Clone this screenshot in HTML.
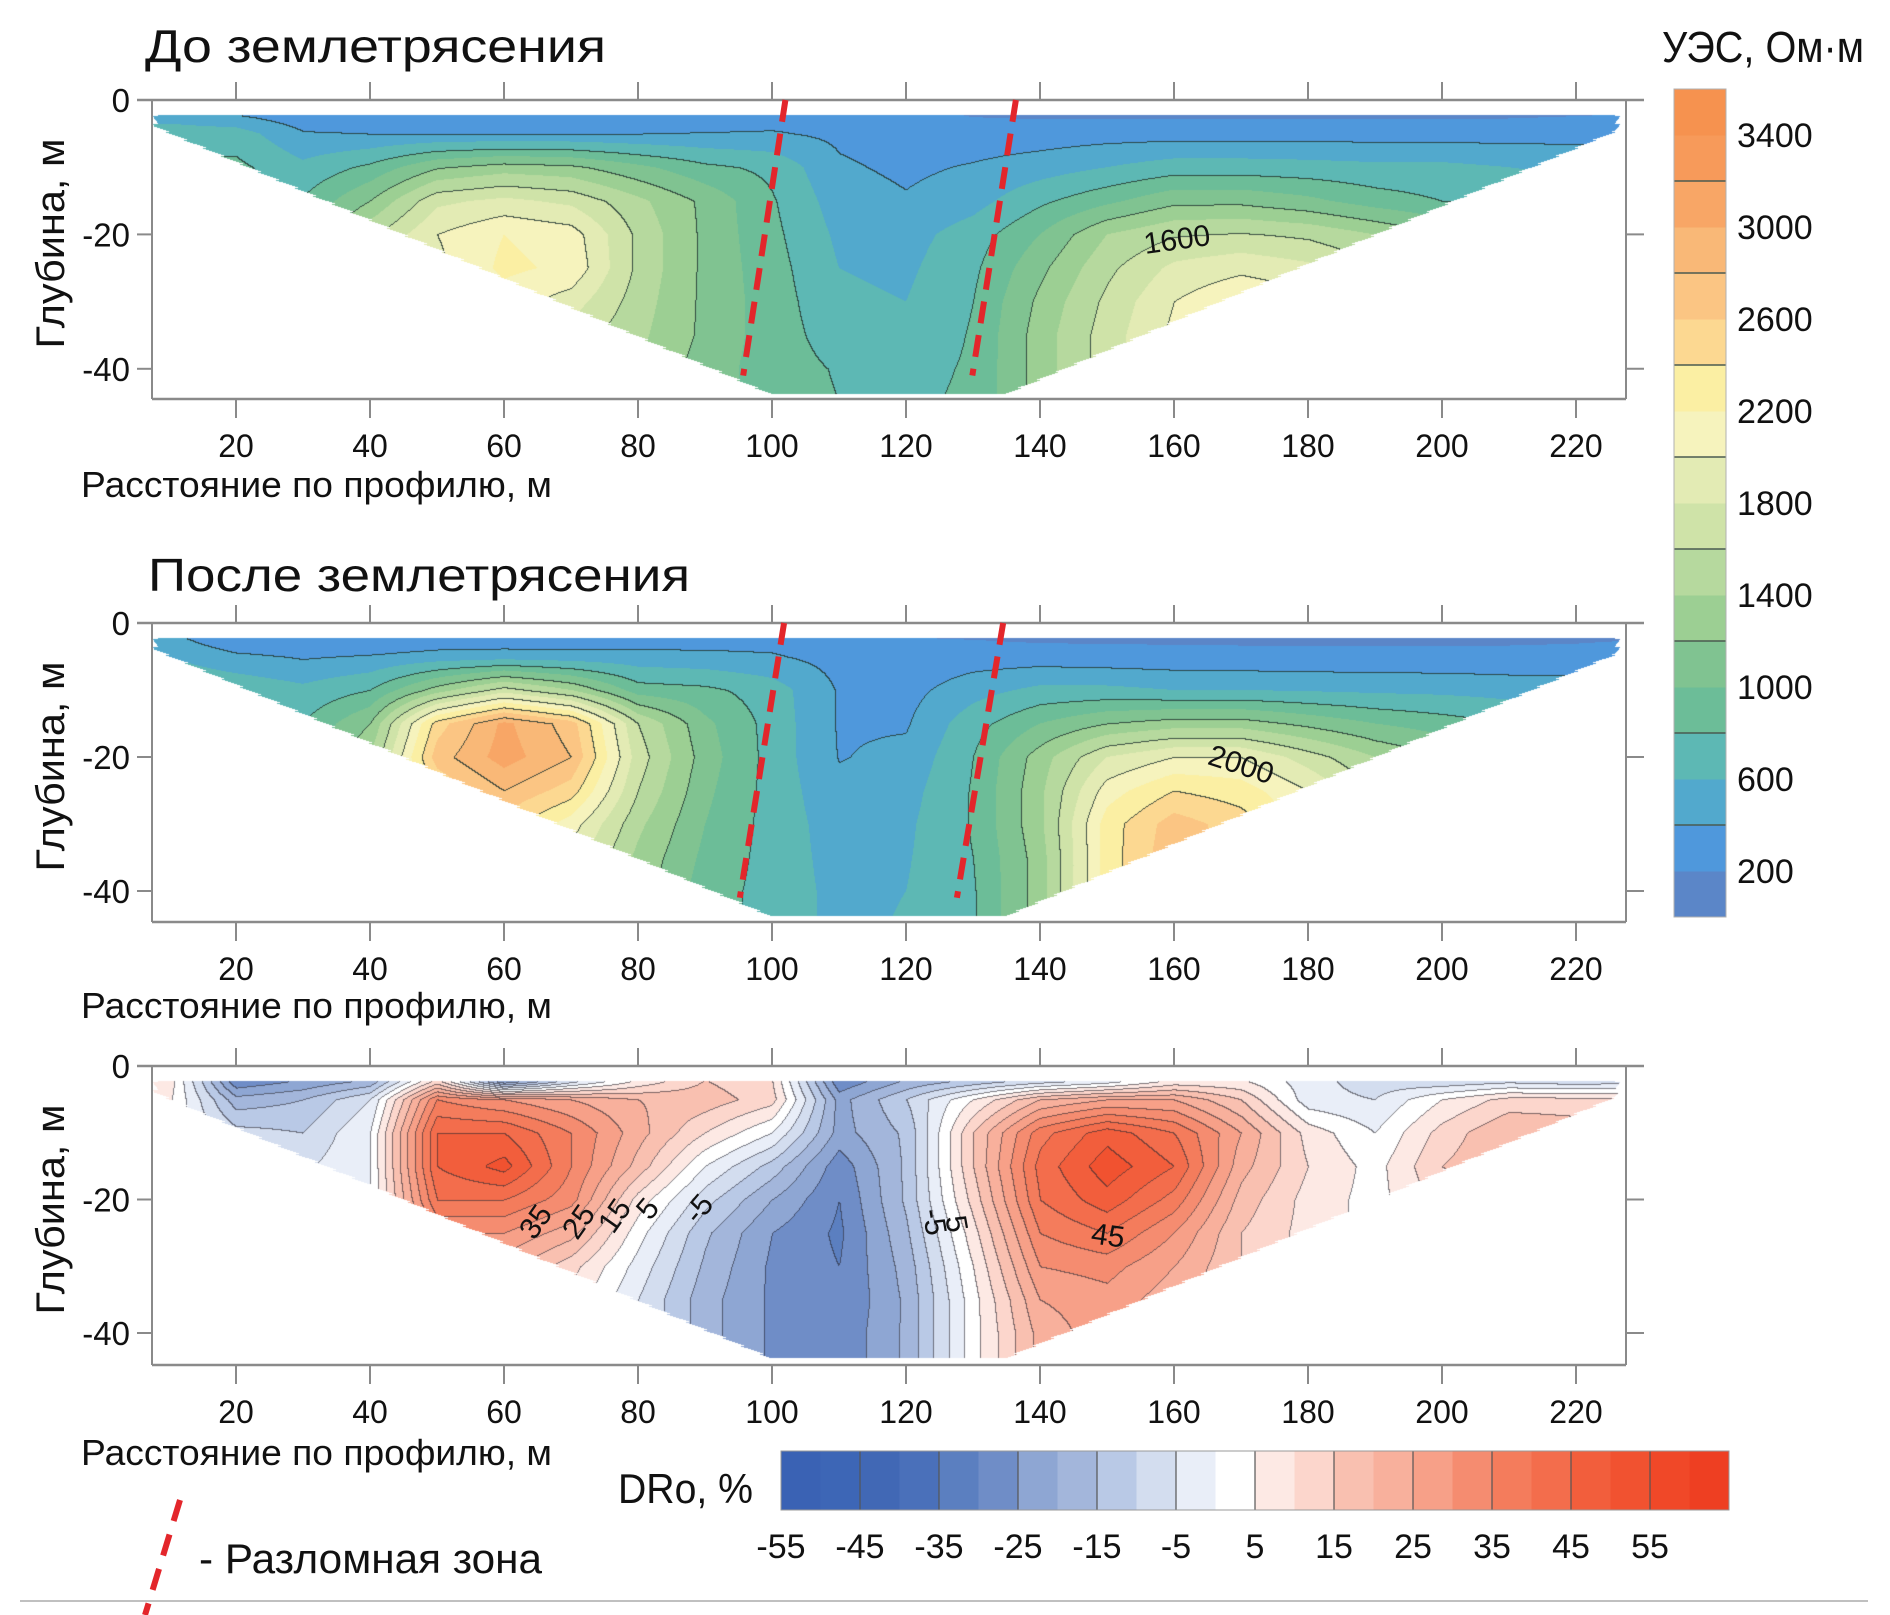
<!DOCTYPE html>
<html><head><meta charset="utf-8">
<style>
html,body{margin:0;padding:0;background:#fff;}
#wrap{position:relative;width:1890px;height:1615px;overflow:hidden;background:#fff;}
canvas{position:absolute;}
svg{position:absolute;left:0;top:0;}
text{font-family:"Liberation Sans","DejaVu Sans",sans-serif;fill:#111;}
</style></head>
<body>
<div id="wrap">
<canvas id="c0"></canvas>
<canvas id="c1"></canvas>
<canvas id="c2"></canvas>
<svg id="svg" width="1890" height="1615"></svg>
</div>
<script>
// ---------- data ----------
const gridX = [10,20,30,40,50,60,70,80,90,100,110,120,130,140,150,160,170,180,190,200,210,220,230];
const gridDepth = [-2,-5,-10,-15,-20,-25,-30,-35,-40,-45];
const xTicks = [20,40,60,80,100,120,140,160,180,200,220];
const yTicks = [0,-20,-40];
const uesTickLabels = [3400,3000,2600,2200,1800,1400,1000,600,200];
const droTickLabels = [-55,-45,-35,-25,-15,-5,5,15,25,35,45,55];

const beforeGrid = [
 [500,380,260,240,230,230,240,250,270,300,320,250,180,160,150,150,150,150,150,150,160,180,200],
 [700,700,420,400,400,400,400,400,410,420,360,300,290,300,320,320,320,320,320,320,320,330,350],
 [850,850,650,850,1180,1300,1250,1050,850,750,430,360,420,500,600,700,700,680,650,650,600,560,540],
 [900,900,820,1200,1750,1850,1750,1450,1150,820,500,420,520,760,950,1150,1150,1050,900,800,750,700,700],
 [950,950,950,1550,2000,2200,2100,1550,1150,850,560,520,700,1000,1400,1580,1620,1560,1400,1200,1000,900,900],
 [1000,1000,1000,1600,1950,2250,2150,1550,1150,880,600,560,760,1150,1550,1850,1950,1850,1650,1400,1100,1000,1000],
 [1000,1000,1000,1600,1950,2100,1900,1500,1150,900,640,600,800,1250,1650,2000,2200,2100,1800,1500,1200,1000,1000],
 [1000,1000,1000,1600,1900,2000,1700,1450,1150,900,700,650,820,1300,1700,2050,2250,2150,1850,1500,1200,1000,1000],
 [1000,1000,1000,1600,1900,1950,1650,1400,1100,900,780,720,830,1300,1700,2050,2250,2150,1850,1500,1200,1000,1000],
 [1000,1000,1000,1600,1900,1950,1650,1400,1100,900,800,760,840,1300,1700,2050,2250,2150,1850,1500,1200,1000,1000]
];
const afterGrid = [
 [450,200,180,200,250,250,260,280,300,320,280,200,180,150,150,150,150,150,150,150,150,160,180],
 [600,450,380,420,480,500,480,470,450,420,330,260,300,300,280,270,260,260,260,260,260,270,300],
 [800,750,650,800,1300,1700,1400,900,850,700,380,330,520,650,650,600,600,580,560,550,520,500,500],
 [900,850,800,1200,2500,3050,2700,1600,1050,720,380,380,720,1000,1200,1300,1300,1150,1000,900,800,750,700],
 [950,950,900,1400,2700,3100,2800,1700,1100,720,390,450,800,1300,1800,2000,2000,1700,1400,1200,1000,900,900],
 [1000,1000,1000,1500,2400,2800,2500,1600,1050,720,450,520,820,1350,2100,2400,2300,2000,1600,1300,1100,1000,1000],
 [1000,1000,1000,1400,2000,2500,2100,1450,1000,720,500,560,820,1350,2300,2700,2500,2100,1700,1300,1100,1000,1000],
 [1000,1000,1000,1400,1800,2300,1900,1350,950,720,520,580,800,1300,2300,2750,2500,2100,1700,1300,1100,1000,1000],
 [1000,1000,1000,1400,1800,2200,1800,1300,900,720,540,600,780,1300,2300,2750,2500,2100,1700,1300,1100,1000,1000],
 [1000,1000,1000,1400,1800,2200,1800,1300,900,720,540,620,780,1300,2300,2750,2500,2100,1700,1300,1100,1000,1000]
];
const diffGrid = [
 [8,-30,-25,-20,10,-30,-10,5,15,10,-30,-20,-15,-10,-5,5,5,-3,-8,-10,-8,-10,-8],
 [6,-18,-15,-5,35,30,25,20,18,12,-22,-10,5,20,25,25,15,-3,-5,5,12,12,10],
 [3,-8,-10,0,45,45,35,22,10,0,-22,-14,15,38,48,40,25,8,0,12,20,18,15],
 [2,-5,-6,0,45,52,35,18,0,-12,-28,-14,15,42,53,45,22,10,3,15,20,18,15],
 [2,-5,-5,0,40,40,32,8,-8,-20,-30,-14,12,40,48,38,18,8,3,12,18,15,15],
 [2,-5,-5,0,30,30,22,2,-14,-25,-31,-16,8,35,40,30,15,8,3,10,15,15,15],
 [2,-5,-5,0,25,22,12,-2,-16,-26,-30,-18,5,30,32,25,15,8,3,10,15,15,15],
 [2,-5,-5,0,20,15,8,-5,-18,-26,-30,-19,3,25,28,22,15,8,3,10,15,15,15],
 [2,-5,-5,0,20,15,8,-5,-18,-26,-29,-19,3,22,28,22,15,8,3,10,15,15,15],
 [2,-5,-5,0,20,15,8,-5,-18,-26,-29,-19,3,22,28,22,15,8,3,10,15,15,15]
];
const faultTopX = [[102,136.4],[101.8,134.5]];
const faultBottomX = [[95.7,129.9],[95.2,127.6]];

const uesColors = ['#5b86c8','#4f98dc','#52a9cd','#5db8b4','#6cbd98','#80c391','#9ccf93','#b6d99e','#cfe3a8','#e3ebb4','#f6f3bd','#fbefa3','#fcd891','#fbc583','#f9b877','#f8a666','#f79a5a','#f6924f'];
const droColors = ['#3a62b4','#3d66b6','#4168b5','#4a70ba','#5b7fc0','#6f8dc7','#8ea6d3','#a3b6db','#b9c9e6','#d3ddef','#e9eef8','#ffffff','#fde9e4','#fcd6cc','#f9c0b0','#f8b09c','#f7a088','#f58c70','#f47c5c','#f36d4c','#f25e3c','#f15230','#f04828','#ee3f22'];

// ---------- geometry ----------
const KX = 6.7, X0PX = 102, LEFT = 152, RIGHT = 1626;
const panels = [
 {y0:100, ky:6.72, bottom:399, grid:beforeGrid, kind:'ues', tickBase:457, titleBase:497},
 {y0:623, ky:6.7, bottom:922, grid:afterGrid, kind:'ues', tickBase:980, titleBase:1018},
 {y0:1066, ky:6.675, bottom:1365, grid:diffGrid, kind:'dro', tickBase:1423, titleBase:1465}
];
const xp = x => X0PX + KX*x;
const yp = (p,d) => p.y0 - p.ky*d;

function interp(grid, X, D){
  let fx = (X-gridX[0])/10; if(fx<0)fx=0; if(fx>gridX.length-1)fx=gridX.length-1;
  let i = Math.floor(fx); if(i>gridX.length-2)i=gridX.length-2; const t=fx-i;
  let j=0; if(D>gridDepth[0]) D=gridDepth[0];
  while(j<gridDepth.length-2 && D<gridDepth[j+1]) j++;
  let s=(gridDepth[j]-D)/(gridDepth[j]-gridDepth[j+1]); if(s>1)s=1; if(s<0)s=0;
  const a=grid[j][i]*(1-t)+grid[j][i+1]*t, b=grid[j+1][i]*(1-t)+grid[j+1][i+1]*t;
  return a*(1-s)+b*s;
}
function hex(c){return [parseInt(c.substr(1,2),16),parseInt(c.substr(3,2),16),parseInt(c.substr(5,2),16)];}
const uesRGB = uesColors.map(hex), droRGB = droColors.map(hex);

panels.forEach((p,k)=>{
  const cv=document.getElementById('c'+k);
  const W=RIGHT-LEFT, H=p.bottom-p.y0;
  cv.width=W; cv.height=H; cv.style.left=LEFT+'px'; cv.style.top=p.y0+'px';
  const ctx=cv.getContext('2d'); const img=ctx.createImageData(W,H); const dat=img.data;
  const lev=new Int32Array(W*H).fill(-9999);
  for(let py=0;py<H;py++){
    const D=-(py+0.5)/p.ky;
    if(D>-2.2||D<-43.8) continue;
    const jag=(py%8)/8*0.9;
    const xl=7.6+Math.max(0,-D-4)*(92.4/40)+jag;
    const xr=226.6-Math.max(0,-D-4.5)*(91.4/39.3)-jag;
    for(let px=0;px<W;px++){
      const X=(LEFT+px+0.5-X0PX)/KX;
      if(X<xl||X>xr) continue;
      const v=interp(p.grid,X,D);
      let band,col,L;
      if(p.kind==='ues'){band=Math.max(0,Math.min(17,Math.floor(v/200)));col=uesRGB[band];L=Math.floor(v/400);}
      else{band=Math.max(0,Math.min(23,Math.floor((v+55)/5)));col=droRGB[band];L=Math.floor((v+55)/5);}
      const id=py*W+px; lev[id]=L;
      dat[id*4]=col[0];dat[id*4+1]=col[1];dat[id*4+2]=col[2];dat[id*4+3]=255;
    }
  }
  const lc = p.kind==='ues'?[35,55,50]:[40,40,50];
  for(let py=1;py<H;py++)for(let px=1;px<W;px++){
    const id=py*W+px, L=lev[id]; if(L===-9999) continue;
    const a=lev[id-1], b=lev[id-W];
    if((a!==-9999&&a!==L)||(b!==-9999&&b!==L)){
      const al=p.kind==='ues'?0.85:0.6;
      dat[id*4]=dat[id*4]*(1-al)+lc[0]*al;dat[id*4+1]=dat[id*4+1]*(1-al)+lc[1]*al;dat[id*4+2]=dat[id*4+2]*(1-al)+lc[2]*al;
    }
  }
  ctx.putImageData(img,0,0);
});

// ---------- SVG overlay ----------
const svg=document.getElementById('svg'); const NS='http://www.w3.org/2000/svg';
function mk(tag,attrs,parent){const e=document.createElementNS(NS,tag);for(const a in attrs)e.setAttribute(a,attrs[a]);(parent||svg).appendChild(e);return e;}
function txt(s,attrs,parent){const e=mk('text',attrs,parent);e.textContent=s;return e;}

panels.forEach((p,k)=>{
  const g=mk('g',{});
  
  
  const ax='#8a8a8a';
  const top=mk('line',{x1:137,y1:p.y0,x2:1644,y2:p.y0,stroke:ax,'stroke-width':2.5},g);
  
  
  const bot=mk('line',{x1:LEFT,y1:p.bottom,x2:RIGHT,y2:p.bottom,stroke:ax,'stroke-width':2.5},g);
  
  
  const lft=mk('line',{x1:LEFT,y1:p.y0,x2:LEFT,y2:p.bottom,stroke:ax,'stroke-width':2},g);
  
  
  const rgt=mk('line',{x1:RIGHT,y1:p.y0,x2:RIGHT,y2:p.bottom,stroke:ax,'stroke-width':2},g);
  
  
  xTicks.forEach(t=>{
    const x=xp(t);
    const t1=mk('line',{x1:x,y1:p.y0-18,x2:x,y2:p.y0,stroke:ax,'stroke-width':2},g);
    
    
    const t2=mk('line',{x1:x,y1:p.bottom,x2:x,y2:p.bottom+19,stroke:ax,'stroke-width':2},g);
    
    
    const lb=txt(String(t),{x:x,y:p.tickBase,'text-anchor':'middle','font-size':32},g);
    
    
  });
  yTicks.forEach(t=>{
    const y=yp(p,t);
    const t1=mk('line',{x1:137,y1:y,x2:LEFT,y2:y,stroke:ax,'stroke-width':2},g);
    
    
    const t2=mk('line',{x1:RIGHT,y1:y,x2:1644,y2:y,stroke:ax,'stroke-width':2},g);
    
    
    const lb=txt(String(t),{x:130,y:y+12,'text-anchor':'end','font-size':33},g);
    
    
  });
  const xt=txt('Расстояние по профилю, м',{x:81,y:p.titleBase,'font-size':36,textLength:471,lengthAdjust:'spacingAndGlyphs'},g);
  
  
  const cy=(p.y0+p.bottom)/2-6;
  const yt=txt('Глубина, м',{x:0,y:0,'font-size':40,'text-anchor':'middle',textLength:210,lengthAdjust:'spacingAndGlyphs',transform:'translate(64,'+cy+') rotate(-90)'},g);
  
  
});

// fault lines
faultTopX.forEach((pair,k)=>{
  const p=panels[k];
  pair.forEach((xt,i)=>{
    const l=mk('line',{x1:xp(xt),y1:yp(p,0),x2:xp(faultBottomX[k][i]),y2:yp(p,-41),stroke:'#e3262b','stroke-width':6,'stroke-dasharray':'22 12'});
    
    
  });
});

// titles
const t1=txt('До землетрясения',{x:145,y:62,'font-size':46,textLength:461,lengthAdjust:'spacingAndGlyphs'});


const t2=txt('После землетрясения',{x:148,y:591,'font-size':46,textLength:542,lengthAdjust:'spacingAndGlyphs'});



// contour labels
[['1600',1177,240,-8],['2000',1241,765,18],['35',536,1222,-55],['25',579,1222,-55],['15',615,1216,-55],['5',648,1209,-50],['-5',699,1209,-50],['-5',934,1222,80],['5',956,1224,80],['45',1108,1236,8]].forEach(c=>{
  const e=txt(c[0],{x:c[1],y:c[2],'font-size':30,'text-anchor':'middle','dominant-baseline':'central',transform:'rotate('+c[3]+' '+c[1]+' '+c[2]+')'});
  
  
});

// UES colorbar
const cbTop=89, cbBot=917, cbK=(cbBot-cbTop)/3600;
uesColors.forEach((c,i)=>{
  const r=mk('rect',{x:1674,y:cbBot-(i+1)*200*cbK,width:52,height:200*cbK+0.5,fill:c});
  
  
});
for(let v=400;v<3600;v+=400){
  const l=mk('line',{x1:1674,x2:1726,y1:cbBot-v*cbK,y2:cbBot-v*cbK,stroke:'#4a5a50','stroke-width':1.5});
  
  
}
const cbb=mk('rect',{x:1674,y:cbTop,width:52,height:cbBot-cbTop,fill:'none',stroke:'#b0b0b0','stroke-width':1});


uesTickLabels.forEach(v=>{
  const e=txt(String(v),{x:1737,y:cbBot-v*cbK+12,'font-size':34});
  
  
});
const ut=txt('УЭС, Ом·м',{x:1662,y:62,'font-size':44,textLength:202,lengthAdjust:'spacingAndGlyphs'});



// DRo colorbar
const dL=781, dW=39.5;
droColors.forEach((c,i)=>{
  const r=mk('rect',{x:dL+i*dW,y:1451,width:dW+0.5,height:59,fill:c});
  
  
});
for(let i=2;i<24;i+=2){
  const l=mk('line',{x1:dL+i*dW,x2:dL+i*dW,y1:1451,y2:1510,stroke:'#555','stroke-width':1.2});
  
  
}
const db=mk('rect',{x:dL,y:1451,width:24*dW,height:59,fill:'none',stroke:'#999','stroke-width':1});


droTickLabels.forEach(v=>{
  const e=txt(String(v),{x:dL+(v+55)/5*dW,y:1558,'font-size':34,'text-anchor':'middle'});
  
  
});
const dt=txt('DRo, %',{x:618,y:1503,'font-size':42,textLength:135,lengthAdjust:'spacingAndGlyphs'});



// legend
const lg=mk('line',{x1:180,y1:1500,x2:145,y2:1615,stroke:'#e3262b','stroke-width':6,'stroke-dasharray':'22 14'});


const lt=txt('- Разломная зона',{x:199,y:1573,'font-size':42,textLength:343,lengthAdjust:'spacingAndGlyphs'});


const bl=mk('line',{x1:20,y1:1601,x2:1868,y2:1601,stroke:'#c0c0c0','stroke-width':2});


</script>
</body></html>
